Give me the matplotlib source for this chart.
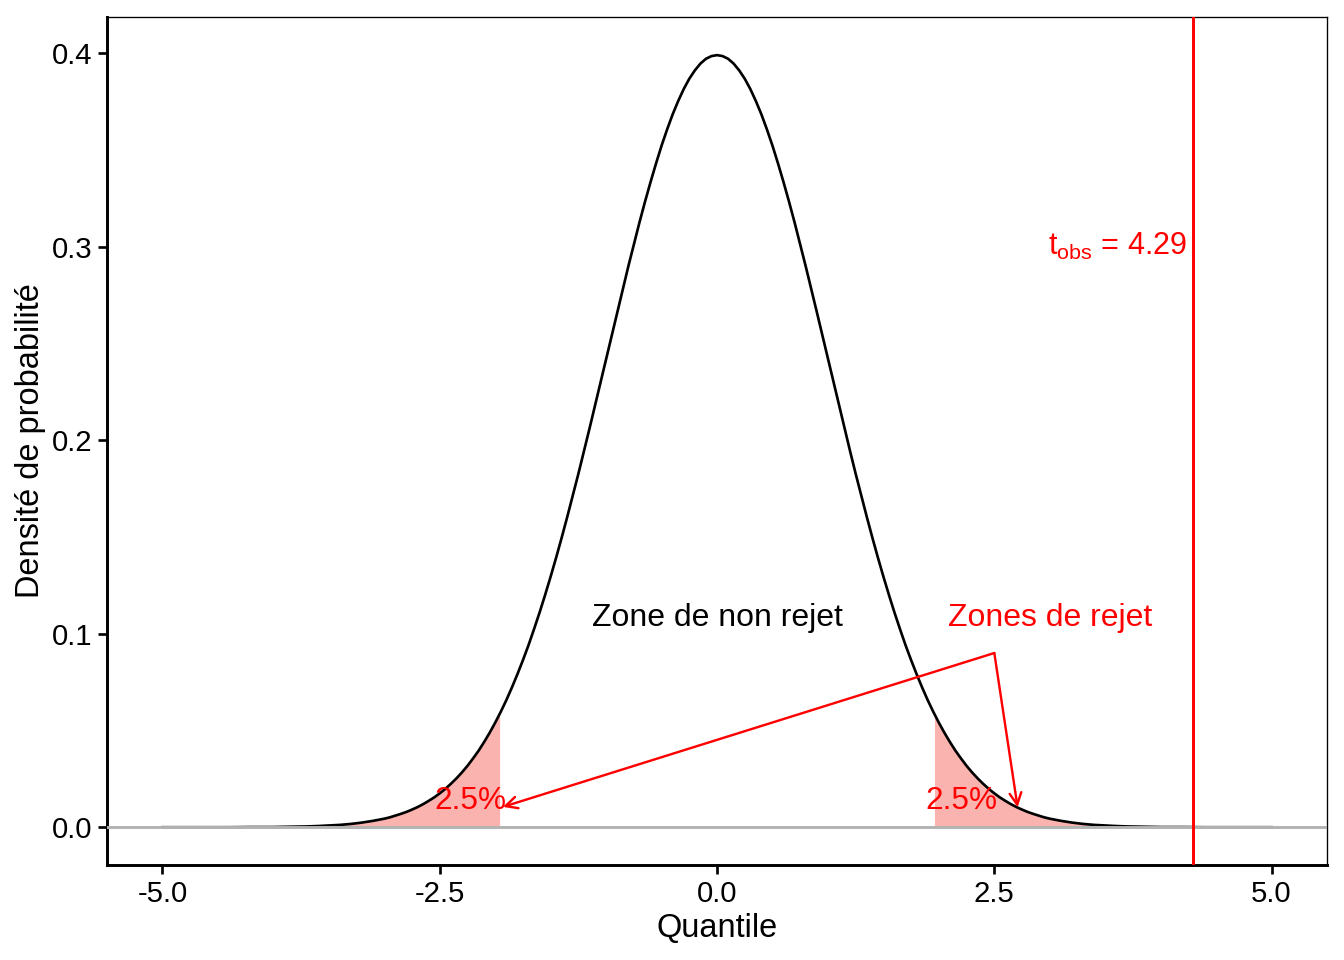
#!/usr/bin/env python3

import numpy as np
from matplotlib import pyplot as plt

# density, right half (the curve is symmetric about 0)
half_x = [0.0, 0.05, 0.1, 0.15, 0.2, 0.25, 0.3, 0.35, 0.4, 0.45,
          0.5, 0.55, 0.6, 0.65, 0.7, 0.75, 0.8, 0.85, 0.9, 0.95,
          1.0, 1.05, 1.1, 1.15, 1.2, 1.25, 1.3, 1.35, 1.4, 1.45,
          1.5, 1.55, 1.6, 1.65, 1.7, 1.75, 1.8, 1.85, 1.9, 1.95,
          2.0, 2.05, 2.1, 2.15, 2.2, 2.25, 2.3, 2.35, 2.4, 2.45,
          2.5, 2.55, 2.6, 2.65, 2.7, 2.75, 2.8, 2.85, 2.9, 2.95,
          3.0, 3.1, 3.2, 3.3, 3.4, 3.5, 3.6, 3.7, 3.8, 3.9,
          4.0, 4.2, 4.4, 4.6, 4.8, 5.0]
half_y = [0.3989, 0.3984, 0.3970, 0.3945, 0.3910, 0.3867, 0.3814, 0.3752, 0.3683, 0.3605,
          0.3521, 0.3429, 0.3332, 0.3230, 0.3123, 0.3011, 0.2897, 0.2780, 0.2661, 0.2541,
          0.2420, 0.2299, 0.2179, 0.2059, 0.1942, 0.1826, 0.1714, 0.1604, 0.1497, 0.1394,
          0.1295, 0.1200, 0.1109, 0.1023, 0.0940, 0.0863, 0.0790, 0.0721, 0.0656, 0.0596,
          0.0540, 0.0488, 0.0440, 0.0395, 0.0355, 0.0317, 0.0283, 0.0252, 0.0224, 0.0198,
          0.0175, 0.0154, 0.0136, 0.0119, 0.0104, 0.0091, 0.0079, 0.0069, 0.0060, 0.0051,
          0.0044, 0.0033, 0.0024, 0.0017, 0.0012, 0.0009, 0.0006, 0.0004, 0.0003, 0.0002,
          0.0001, 0.0001, 0.0000, 0.0000, 0.0000, 0.0000]

crit = 1.96
crit_density = 0.0584
t_obs = 4.29

x_ticks = [-5.0, -2.5, 0.0, 2.5, 5.0]
y_ticks = [0.0, 0.1, 0.2, 0.3, 0.4]


def main():
    plt.rcParams['font.family'] = ['Liberation Sans', 'DejaVu Sans']
    plt.rcParams['axes.unicode_minus'] = False
    plt.rcParams['mathtext.fontset'] = 'custom'
    plt.rcParams['mathtext.rm'] = 'Liberation Sans'

    hx = np.array(half_x)
    hy = np.array(half_y)
    x = np.concatenate([-hx[::-1], hx[1:]])
    y = np.concatenate([hy[::-1], hy[1:]])

    fig = plt.figure(figsize=(7, 5), dpi=192)
    ax = fig.add_axes([0.0796, 0.099, 0.9078, 0.8833])

    # rejection tails
    tail = hx >= crit
    tx = np.concatenate([[crit], hx[tail]])
    ty = np.concatenate([[crit_density], hy[tail]])
    fill_kw = dict(color='#f8766d', alpha=0.55, lw=0, zorder=2)
    ax.fill_between(tx, 0, ty, **fill_kw)
    ax.fill_between(-tx, 0, ty, **fill_kw)

    ax.plot(x, y, color='black', lw=1.0, zorder=3)
    ax.axhline(0, color='#b3b3b3', lw=1.1, zorder=4)
    ax.axvline(t_obs, color='red', lw=1.1, zorder=5)

    ax.text(0, 0.108, 'Zone de non rejet', ha='center', va='center',
            fontsize=12, color='black')
    ax.text(3.0, 0.108, 'Zones de rejet', ha='center', va='center',
            fontsize=12, color='red')
    ax.text(4.24, 0.30, r'$\mathrm{t_{obs}}$ = %.2f' % t_obs, ha='right',
            va='center', fontsize=11.5, color='red')
    ax.text(-2.22, 0.0135, '2.5%', ha='center', va='center',
            fontsize=11.8, color='red')
    ax.text(2.2, 0.0135, '2.5%', ha='center', va='center',
            fontsize=11.8, color='red')

    arrow = dict(arrowstyle='->', color='red', lw=0.9, shrinkA=0, shrinkB=0,
                 mutation_scale=11)
    ax.annotate('', xy=(-1.93, 0.0105), xytext=(2.5, 0.09), arrowprops=arrow)
    ax.annotate('', xy=(2.71, 0.0103), xytext=(2.5, 0.09), arrowprops=arrow)

    ax.set_xlim(-5.5, 5.5)
    ax.set_ylim(-0.0195, 0.4186)
    ax.set_xticks(x_ticks)
    ax.set_xticklabels(['%.1f' % v for v in x_ticks])
    ax.set_yticks(y_ticks)
    ax.set_yticklabels(['%.1f' % v for v in y_ticks])
    ax.tick_params(labelsize=11, colors='black', length=3.5, width=1.0, pad=2)

    for side in ['left', 'bottom']:
        ax.spines[side].set_linewidth(1.1)
    for side in ['top', 'right']:
        ax.spines[side].set_linewidth(0.5)

    ax.set_xlabel('Quantile', fontsize=12.2, labelpad=2)
    ax.set_ylabel('Densité de probabilité', fontsize=12.2, labelpad=2)

    plt.savefig('out.png', dpi=192)


if __name__ == '__main__':
    main()
